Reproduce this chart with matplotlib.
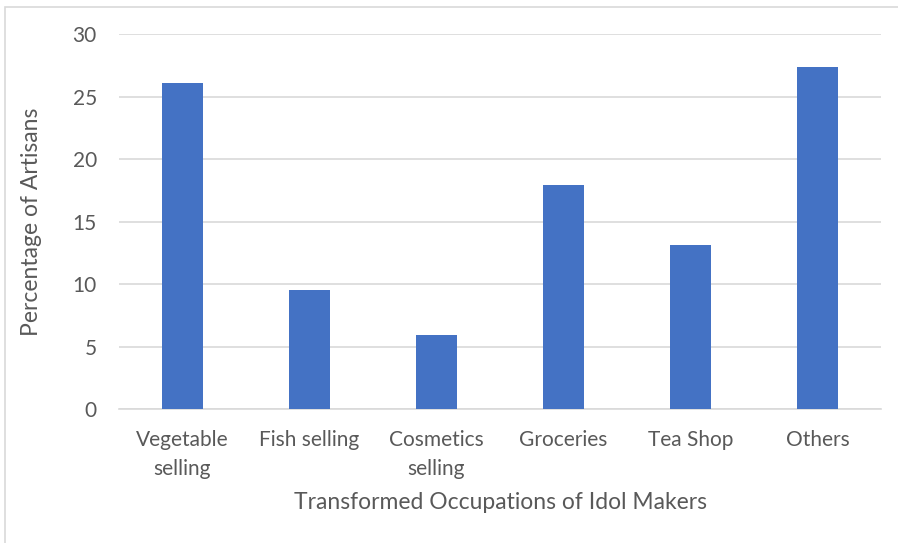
import matplotlib
matplotlib.use("Agg")
import matplotlib.pyplot as plt
from matplotlib.patches import Rectangle

categories = ["Vegetable\nselling", "Fish selling", "Cosmetics\nselling", "Groceries", "Tea Shop", "Others"]
values = [26.1, 9.5, 5.9, 17.9, 13.1, 27.4]
yticks = [0, 5, 10, 15, 20, 25, 30]

plt.rcParams['font.family'] = ['Lato', 'DejaVu Sans']
grey = "#595959"

fig = plt.figure(figsize=(8.98, 5.43), dpi=100)
ax = fig.add_axes([119/898, 0.2468, 762/898, 0.69])

x = list(range(len(categories)))
ax.bar(x, values, width=0.315, color="#4472C4", zorder=3)
ax.set_xlim(-0.5, len(categories) - 0.5)
ax.set_ylim(0, 30)
ax.set_yticks(yticks)
ax.set_xticks(x)
ax.set_xticklabels(categories, fontsize=15, color=grey, linespacing=1.6)
ax.tick_params(axis='y', labelsize=15, labelcolor=grey, length=0, pad=16)
ax.tick_params(axis='x', length=0, pad=15)
ax.grid(axis='y', color="#D9D9D9", linewidth=1.2, zorder=0)
for s in ["top", "right", "left"]:
    ax.spines[s].set_visible(False)
ax.spines["bottom"].set_color("#D9D9D9")
ax.spines["bottom"].set_linewidth(1.2)

ax.set_ylabel("Percentage of Artisans", fontsize=16.5, color=grey, labelpad=22)
ax.set_xlabel("Transformed Occupations of Idol Makers", fontsize=16.5, color=grey, labelpad=9)

fig.patches.append(Rectangle((5/898, -0.1), 2, 1.1 - 7/543, transform=fig.transFigure,
                             fill=False, edgecolor="#D9D9D9", linewidth=1.2))

fig.savefig("out.png", dpi=100)
